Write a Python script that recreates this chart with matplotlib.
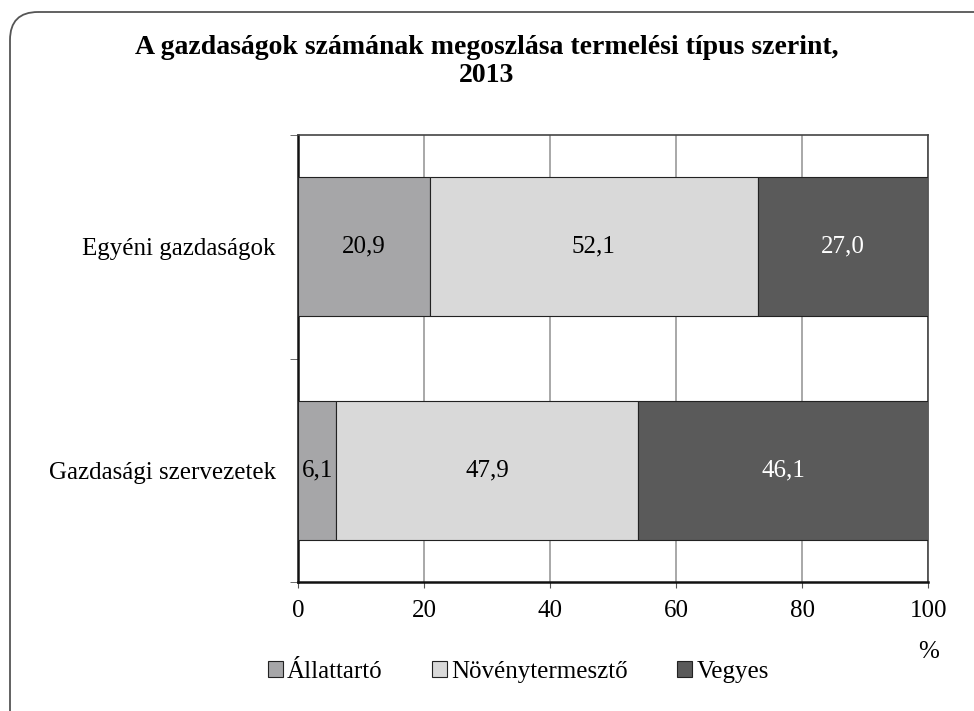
import numpy as np
import matplotlib.pyplot as plt
from matplotlib.patches import FancyBboxPatch, Patch

plt.rcParams["font.family"] = ["Liberation Serif", "DejaVu Serif"]

categories = ["Egyéni gazdaságok", "Gazdasági szervezetek"]
series = ["Állattartó", "Növénytermesztő", "Vegyes"]
allattarto = [20.9, 6.1]
novenytermeszto = [52.1, 47.9]
vegyes = [27.0, 46.1]
values = [allattarto, novenytermeszto, vegyes]
colours = ["#a6a6a8", "#d9d9d9", "#5a5a5a"]
text_colours = ["black", "black", "white"]

W, H = 974, 711
fig = plt.figure(figsize=(W / 100, H / 100), dpi=100)

# background axes in pixel units, only for the rounded frame
bg = fig.add_axes([0, 0, 1, 1])
bg.set_xlim(0, W)
bg.set_ylim(H, 0)
bg.axis("off")
bg.add_patch(FancyBboxPatch((10, 12), W + 30, H + 20,
                            boxstyle="round,pad=0,rounding_size=28",
                            fill=False, edgecolor="#555555", linewidth=1.3))

ax = fig.add_axes([0.306, 0.1814, 0.647, 0.6287])

y = np.arange(len(categories))
left = np.zeros(len(categories))
for name, vals, col, tcol in zip(series, values, colours, text_colours):
    ax.barh(y, vals, left=left, height=0.62, color=col,
            edgecolor="#222222", linewidth=0.8, label=name, zorder=3)
    for i, v in enumerate(vals):
        ax.text(left[i] + v / 2, y[i], f"{v:.1f}".replace(".", ","),
                ha="center", va="center", fontsize=18, color=tcol, zorder=4)
    left += np.array(vals)

ax.set_xlim(0, 100)
ax.set_ylim(1.5, -0.5)
ax.set_xticks(np.arange(0, 101, 20))
ax.set_yticks(y)
ax.set_yticklabels(categories)
ax.set_yticks([-0.5, 0.5, 1.5], minor=True)
ax.tick_params(axis="y", which="major", length=0, labelsize=18, pad=16)
ax.tick_params(axis="y", which="minor", length=6, direction="out", color="#555555")
ax.tick_params(axis="x", length=4, labelsize=18, pad=9, color="#555555")
ax.grid(axis="x", color="#999999", linewidth=1.2, zorder=0)
for s in ["top", "right"]:
    ax.spines[s].set_color("#444444")
    ax.spines[s].set_linewidth(1.2)
ax.spines["left"].set_linewidth(1.8)
ax.spines["bottom"].set_linewidth(1.8)
ax.spines["left"].set_color("#111111")
ax.spines["bottom"].set_color("#111111")

fig.text(0.953, 0.083, "%", fontsize=18, ha="center", va="center")

fig.text(0.5, 0.951, "A gazdaságok számának megoszlása termelési típus szerint,\n2013",
         fontsize=20, fontweight="bold", ha="center", va="top", linespacing=1.15)

handles = [Patch(facecolor=c, edgecolor="#222222", linewidth=0.8) for c in colours]
fig.legend(handles, series, loc="center", bbox_to_anchor=(0.532, 0.055),
           ncol=3, frameon=False, fontsize=18, handlelength=0.6,
           handleheight=0.6, handletextpad=0.15, columnspacing=2.0,
           borderpad=0)

plt.savefig("out.png", dpi=100)
